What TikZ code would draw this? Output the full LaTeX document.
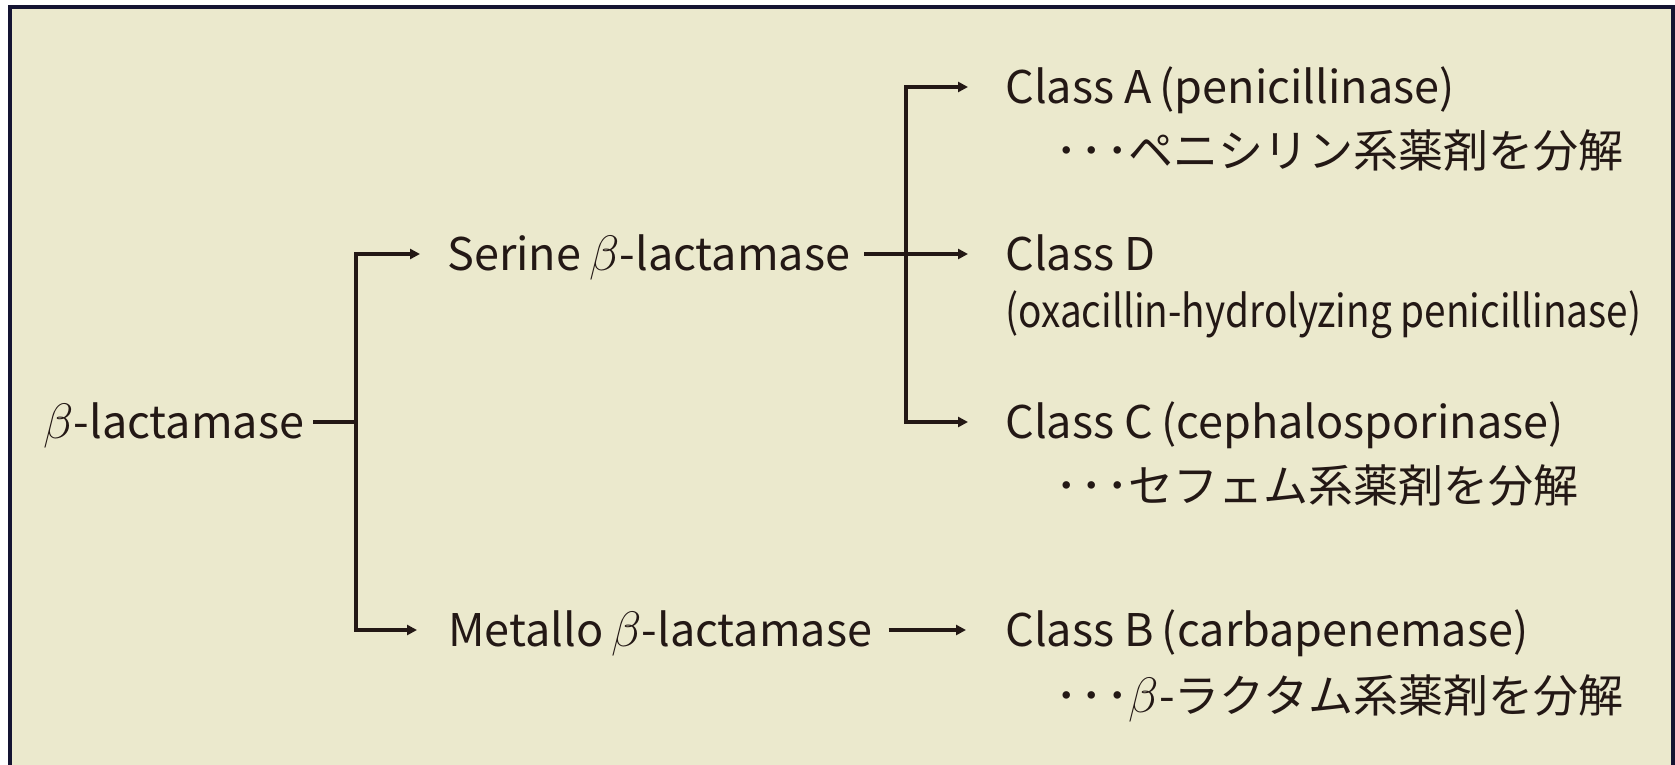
\documentclass[tikz,border=0pt]{standalone}
\usepackage{fontspec}
\setmainfont{Noto Sans CJK JP}
\usetikzlibrary{arrows.meta,calc}
\definecolor{ink}{HTML}{231815}
\definecolor{paper}{HTML}{EBE9CD}
\definecolor{frame}{HTML}{141432}
% slanted beta as in the printed labels
\newcommand\betaglyph{{\fontsize{26pt}{26pt}\selectfont$\beta$}}
% narrow leader dots before the Japanese notes
\newcommand\leaderdots{･\hspace{1.5pt}･\hspace{1.5pt}･}

\begin{document}
\begin{tikzpicture}[x=0.5pt,y=-0.5pt,
  lbl/.style={inner sep=0pt, text height=16.5pt, text depth=0pt, anchor=west,
    text=ink, font=\fontsize{22.5pt}{27pt}\selectfont},
  sub/.style={inner sep=0pt, anchor=base west, text=ink,
    font=\fontsize{22.5pt}{27pt}\selectfont},
  ln/.style={draw=ink, line width=2pt},
  arr/.style={ln, -{Triangle[length=5pt,width=5pt]}}]

% canvas, frame and paper
\useasboundingbox (0,0) rectangle (1675,765);
\fill[white] (0,0) rectangle (1675,765);
\fill[frame] (8,5) rectangle (1675,765);
\fill[paper] (12,9) rectangle (1671,765);

% labels
\node[lbl] (root)    at (43,422)  {\betaglyph-lactamase};
\node[lbl] (serine)  at (447,254) {Serine\hspace{4pt}\betaglyph-lactamase};
\node[lbl] (metallo) at (448,630) {Metallo\hspace{4pt}\betaglyph-lactamase};

\node[lbl] (classA) at (1005,87)  {Class A\hspace{4pt}(penicillinase)};
\node[sub] (noteA)  at (1055,167) {\leaderdots ペニシリン系薬剤を分解};
\node[lbl] (classD) at (1005,254) {Class D};
\node[sub] (noteD)  at (1005,327) {\scalebox{0.86}[1]{(oxacillin-hydrolyzing penicillinase)}};
\node[lbl] (classC) at (1005,422) {Class C\hspace{4pt}(cephalosporinase)};
\node[sub] (noteC)  at (1055,502) {\leaderdots セフェム系薬剤を分解};
\node[lbl] (classB) at (1005,630) {Class B\hspace{4pt}(carbapenemase)};
\node[sub] (noteB)  at (1055,712) {\leaderdots \betaglyph-ラクタム系薬剤を分解};

% branch points
\coordinate (j1) at (356,422);
\coordinate (j2) at (906,254);

% connectors
\draw[ln]  ($(root.east)+(9,0)$) -- (j1);
\draw[arr] (j1) |- ($(serine.west)+(-27,0)$);
\draw[arr] (j1) |- ($(metallo.west)+(-31,0)$);

\draw[ln]  ($(serine.east)+(14,0)$) -- (j2);
\draw[arr] (j2) -- ($(classD.west)+(-37,0)$);
\draw[arr] (j2) |- ($(classA.west)+(-37,0)$);
\draw[arr] (j2) |- ($(classC.west)+(-37,0)$);

\draw[arr] ($(metallo.east)+(16,0)$) -- ($(classB.west)+(-39,0)$);
\end{tikzpicture}
\end{document}
